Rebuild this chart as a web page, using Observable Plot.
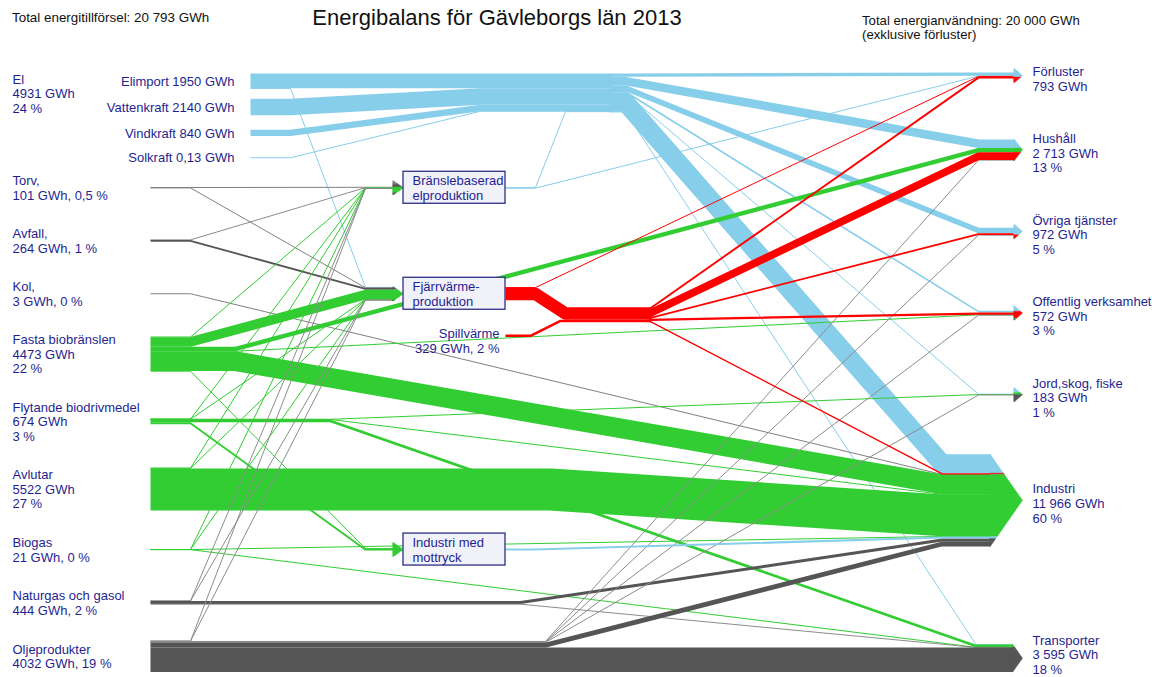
<!DOCTYPE html>
<html>
<head>
<meta charset="utf-8">
<script src="https://cdn.jsdelivr.net/npm/d3@7"></script>
<script src="https://cdn.jsdelivr.net/npm/@observablehq/plot@0.6"></script>
<style>
  body { margin: 0; background: #fff; font-family: "Liberation Sans", Arial, sans-serif; }
  #head { position: relative; width: 1152px; height: 56px; color: #111; }
  #head div { position: absolute; white-space: nowrap; }
  #chart svg { display: block; }
</style>
</head>
<body>
<div id="head">
  <div id="h-left" style="left:12px; top:10px; font-size:13.4px;"></div>
  <div id="h-title" style="left:0; width:994px; text-align:center; top:5px; font-size:22px;"></div>
  <div id="h-right" style="left:862px; top:14px; font-size:13.2px; line-height:14px;"></div>
</div>
<div id="chart"></div>
<script>
// ---------------- data ----------------
const headerLeft = "Total energitillförsel: 20 793 GWh";
const headerTitle = "Energibalans för Gävleborgs län 2013";
const headerRight = ["Total energianvändning: 20 000 GWh", "(exklusive förluster)"];

const elSources = ["Elimport", "Vattenkraft", "Vindkraft", "Solkraft"];
const elValues = [1950, 2140, 840, 0.13];
const elLabels = ["Elimport 1950 GWh", "Vattenkraft 2140 GWh", "Vindkraft 840 GWh", "Solkraft 0,13 GWh"];
const elGroupLabel = "El\n4931 GWh\n24 %";

const fuelSources = ["Torv", "Avfall", "Kol", "Fasta biobränslen", "Flytande biodrivmedel", "Avlutar", "Biogas", "Naturgas och gasol", "Oljeprodukter"];
const fuelValues = [101, 264, 3, 4473, 674, 5522, 21, 444, 4032];
const fuelLabels = ["Torv,\n101 GWh, 0,5 %", "Avfall,\n264 GWh, 1 %", "Kol,\n3 GWh, 0 %", "Fasta biobränslen\n4473 GWh\n22 %", "Flytande biodrivmedel\n674 GWh\n3 %", "Avlutar\n5522 GWh\n27 %", "Biogas\n21 GWh, 0 %", "Naturgas och gasol\n444 GWh, 2 %", "Oljeprodukter\n4032 GWh, 19 %"];

const conversions = ["Bränslebaserad elproduktion", "Fjärrvärmeproduktion", "Industri med mottryck"];
const conversionLabels = ["Bränslebaserad\nelproduktion", "Fjärrvärme-\nproduktion", "Industri med\nmottryck"];

const wasteHeat = "Spillvärme";
const wasteHeatLabel = "Spillvärme\n329 GWh, 2 %";

const hubs = ["Elnät", "Fjärrvärmenät"];

const targets = ["Förluster", "Hushåll", "Övriga tjänster", "Offentlig verksamhet", "Jord,skog, fiske", "Industri", "Transporter"];
const targetValues = [793, 2713, 972, 572, 183, 11966, 3595];
const targetLabels = ["Förluster\n793 GWh", "Hushåll\n2 713 GWh\n13 %", "Övriga tjänster\n972 GWh\n5 %", "Offentlig verksamhet\n572 GWh\n3 %", "Jord,skog, fiske\n183 GWh\n1 %", "Industri\n11 966 GWh\n60 %", "Transporter\n3 595 GWh\n18 %"];

const flows = [
  ["Elimport", "Fjärrvärmeproduktion", 25],
  ["Elimport", "Elnät", 1925],
  ["Vattenkraft", "Elnät", 2140],
  ["Vindkraft", "Elnät", 840],
  ["Solkraft", "Elnät", 0.13],
  ["Bränslebaserad elproduktion", "Elnät", 110],
  ["Bränslebaserad elproduktion", "Förluster", 50],
  ["Elnät", "Förluster", 433],
  ["Elnät", "Hushåll", 1110],
  ["Elnät", "Övriga tjänster", 722],
  ["Elnät", "Offentlig verksamhet", 210],
  ["Elnät", "Jord,skog, fiske", 65],
  ["Elnät", "Industri", 2446],
  ["Elnät", "Transporter", 30],
  ["Torv", "Bränslebaserad elproduktion", 40],
  ["Torv", "Fjärrvärmeproduktion", 61],
  ["Avfall", "Bränslebaserad elproduktion", 30],
  ["Avfall", "Fjärrvärmeproduktion", 234],
  ["Kol", "Industri", 3],
  ["Fasta biobränslen", "Bränslebaserad elproduktion", 40],
  ["Fasta biobränslen", "Hushåll", 560],
  ["Fasta biobränslen", "Fjärrvärmeproduktion", 1250],
  ["Fasta biobränslen", "Offentlig verksamhet", 40],
  ["Fasta biobränslen", "Industri", 2560],
  ["Fasta biobränslen", "Industri med mottryck", 23],
  ["Flytande biodrivmedel", "Bränslebaserad elproduktion", 5],
  ["Flytande biodrivmedel", "Fjärrvärmeproduktion", 10],
  ["Flytande biodrivmedel", "Jord,skog, fiske", 25],
  ["Flytande biodrivmedel", "Industri", 30],
  ["Flytande biodrivmedel", "Industri med mottryck", 246],
  ["Flytande biodrivmedel", "Transporter", 358],
  ["Avlutar", "Bränslebaserad elproduktion", 20],
  ["Avlutar", "Fjärrvärmeproduktion", 40],
  ["Avlutar", "Industri", 5462],
  ["Biogas", "Bränslebaserad elproduktion", 3],
  ["Biogas", "Fjärrvärmeproduktion", 5],
  ["Biogas", "Industri", 8],
  ["Biogas", "Transporter", 5],
  ["Naturgas och gasol", "Bränslebaserad elproduktion", 10],
  ["Naturgas och gasol", "Fjärrvärmeproduktion", 14],
  ["Naturgas och gasol", "Industri", 400],
  ["Naturgas och gasol", "Transporter", 20],
  ["Oljeprodukter", "Bränslebaserad elproduktion", 12],
  ["Oljeprodukter", "Fjärrvärmeproduktion", 30],
  ["Oljeprodukter", "Hushåll", 43],
  ["Oljeprodukter", "Övriga tjänster", 20],
  ["Oljeprodukter", "Offentlig verksamhet", 32],
  ["Oljeprodukter", "Jord,skog, fiske", 93],
  ["Oljeprodukter", "Industri", 620],
  ["Oljeprodukter", "Transporter", 3182],
  ["Fjärrvärmeproduktion", "Förluster", 60],
  ["Fjärrvärmeproduktion", "Fjärrvärmenät", 1609],
  ["Spillvärme", "Fjärrvärmenät", 329],
  ["Fjärrvärmenät", "Förluster", 250],
  ["Fjärrvärmenät", "Hushåll", 1000],
  ["Fjärrvärmenät", "Övriga tjänster", 230],
  ["Fjärrvärmenät", "Offentlig verksamhet", 290],
  ["Fjärrvärmenät", "Industri", 168],
  ["Industri med mottryck", "Industri", 269]
];

// ---------------- styles ----------------
const SKY = "#87ceeb", GREEN = "#32cd32", RED = "#ff0000", DARK = "#555555", GREY = "#808080", THIN_GREY = "#8c8c8c";
const colorOf = {
  "Elimport": SKY, "Vattenkraft": SKY, "Vindkraft": SKY, "Solkraft": SKY,
  "Elnät": SKY, "Bränslebaserad elproduktion": SKY, "Industri med mottryck": SKY,
  "Torv": GREY, "Avfall": DARK, "Kol": GREY,
  "Fasta biobränslen": GREEN, "Flytande biodrivmedel": GREEN, "Avlutar": GREEN, "Biogas": GREEN,
  "Naturgas och gasol": DARK, "Oljeprodukter": DARK,
  "Fjärrvärmeproduktion": RED, "Spillvärme": RED, "Fjärrvärmenät": RED
};
const TEXT = "#1f1f8f";

// ---------------- layout (pixel units, mapped to GWh via y scale) ----------------
const W = 1152, H = 621;
const K = 130;                 // GWh per pixel of band thickness
const L = {
  top: 17, rTop: 16, LH: 14.6,
  labelX: 12, elLabelX: 234, elX: 250, srcX: 150, srcRun: 40,
  farRun: {"Fasta biobränslen": 85, "Flytande biodrivmedel": 180, "Avlutar": 400, "Naturgas och gasol": 370, "Oljeprodukter": 395},
  gapEl: 10.3, gapGroup: 8.1, gapFuel: 23.8, gapRight: 37.8,
  boxX0: 403, boxX1: 505, boxH: 32, convRun: 30, convIn: 28, convDepth: 10,
  convAlign: ["Torv", "Kol", "Biogas"],
  spillDrop: 42, spillRun: 25,
  elHubX: 610, elHubIn: 130, elHubOut: 15,
  heatHubX: 650, heatHubIn: 90,
  tipX: 1022, minHead: 7, minDepth: 8, convergeRun: 32, targetLabelX: 1032, targetLabelDy: 3,
  minDiag: 30, minStroke: 1, seam: 1
};

const T = v => v / K;
const nLines = s => s.split("\n").length;
const nodes = new Map();
const node = (id, o) => { const n = Object.assign({id, ins: [], outs: [], inRun: 0, outRun: 0}, o); nodes.set(id, n); return n; };

let prevC, prevS;
elSources.forEach((id, i) => {
  const t = T(elValues[i]), s = Math.max(t, L.LH);
  const c = i === 0 ? L.top + t / 2 : prevC + (prevS + s) / 2 + L.gapEl;
  node(id, {y: c, thick: t, x1: L.elX, outRun: L.srcRun, label: elLabels[i]});
  prevC = c; prevS = s;
});
fuelSources.forEach((id, i) => {
  const t = T(fuelValues[i]), s = Math.max(t, nLines(fuelLabels[i]) * L.LH);
  const c = prevC + (prevS + s) / 2 + (i === 0 ? L.gapGroup : L.gapFuel);
  node(id, {y: c, thick: t, x1: L.srcX, outRun: L.srcRun, label: fuelLabels[i]});
  prevC = c; prevS = s;
});
const lastLeft = nodes.get(fuelSources[fuelSources.length - 1]);
const leftBottom = lastLeft.y + lastLeft.thick / 2;

targets.forEach((id, i) => {
  const t = T(targetValues[i]), s = Math.max(t, nLines(targetLabels[i]) * L.LH);
  let c = i === 0 ? L.rTop + t / 2 : prevC + (prevS + s) / 2 + L.gapRight;
  if (i === targets.length - 1) c = leftBottom - t / 2;
  const depth = Math.max(L.minDepth, t / 2 * 0.7);
  node(id, {y: c, thick: t, tip: L.tipX, depth, x0: L.tipX - depth, inRun: L.convergeRun + depth / 2, label: targetLabels[i], final: true});
  prevC = c; prevS = s;
});

conversions.forEach((id, i) => {
  const ref = nodes.get(L.convAlign[i]);
  node(id, {y: ref.y, tip: L.boxX0, depth: L.convDepth, x0: L.boxX0 - L.convDepth, inRun: L.convIn,
            x1: L.boxX1, outRun: L.convRun, label: conversionLabels[i], box: true});
});
const fj = nodes.get(conversions[1]);
const spill = node(wasteHeat, {y: fj.y + L.spillDrop, x1: L.boxX1, outRun: L.spillRun, label: wasteHeatLabel});
const elHub = node(hubs[0], {x0: L.elHubX, x1: L.elHubX, inRun: L.elHubIn, outRun: L.elHubOut, hub: true});
const heatHub = node(hubs[1], {x0: L.heatHubX, x1: L.heatHubX, inRun: L.heatHubIn, outRun: 0, hub: true});

const links = flows.map(([a, b, v], i) => {
  const l = {id: i, s: nodes.get(a), t: nodes.get(b), v, w: T(v)};
  l.run = l.t.final && L.farRun[a] != null ? L.farRun[a] : l.s.outRun;
  l.s.outs.push(l); l.t.ins.push(l);
  return l;
});
for (const n of nodes.values()) {
  n.inSum = d3.sum(n.ins, l => l.w);
  n.outSum = d3.sum(n.outs, l => l.w);
}
const firstEl = nodes.get(elSources[0]);
elHub.y = firstEl.y - firstEl.thick / 2 + elHub.inSum / 2;
heatHub.y = (fj.y + spill.y) / 2;

for (const l of links) {
  const a = l.s.x1 + l.run, b = l.t.x0 - l.t.inRun;
  l.slope = (l.t.y - l.s.y) / Math.max(b - a, L.minDiag);
}
for (const n of nodes.values()) {
  n.outs.sort((p, q) => p.slope - q.slope);
  let y = n.y - n.outSum / 2;
  for (const l of n.outs) { l.y0 = y + l.w / 2; y += l.w; }
  n.ins.sort((p, q) => q.slope - p.slope);
  y = n.y - n.inSum / 2;
  for (const l of n.ins) { l.ta = y; l.tb = y + l.w; l.y1 = y + l.w / 2; y += l.w; }
}

const drawOrder = [...elSources, hubs[0], conversions[0], ...fuelSources, conversions[1], wasteHeat, hubs[1], conversions[2]];
const rank = new Map(drawOrder.map((id, i) => [id, i]));
const linkColor = l => (colorOf[l.s.id] === DARK && l.w < 1.2) ? THIN_GREY : colorOf[l.s.id];
const linkPts = [];
[...links].sort((p, q) => rank.get(p.s.id) - rank.get(q.s.id) || p.id - q.id).forEach(l => {
  const x0 = l.s.x1 - (l.s.hub ? L.seam : 0), x1 = l.s.x1 + l.run;
  const x3 = l.t.x0 + (l.t.hub ? L.seam : 0);
  let x2 = l.t.x0 - l.t.inRun;
  if (x2 < x1 + L.minDiag) x2 = Math.min(x1 + L.minDiag, l.t.x0);
  const color = linkColor(l), w = Math.max(l.w, L.minStroke);
  for (const [x, y] of [[x0, l.y0], [x1, l.y0], [x2, l.y1], [x3, l.y1]]) linkPts.push({id: l.id, x, y, color, w});
});

const headPts = [];
for (const n of nodes.values()) {
  if (n.tip == null || !(n.inSum > 0)) continue;
  const h = n.inSum / 2, Hh = Math.max(h, L.minHead), c = n.y, xb = n.tip - n.depth;
  const xat = y => xb + n.depth * (1 - Math.abs(y - c) / Hh);
  for (const l of n.ins) {
    const a = c + (l.ta - c) * Hh / h, b = c + (l.tb - c) * Hh / h;
    const pts = [[xb - 0.8, a], [xat(a), a]];
    if (a < c && b > c) pts.push([n.tip, c]);
    pts.push([xat(b), b], [xb - 0.8, b]);
    for (const [x, y] of pts) headPts.push({id: n.id + "|" + l.id, x, y, color: colorOf[l.s.id]});
  }
}

const boxes = conversions.map(id => { const n = nodes.get(id); return {x1: L.boxX0, x2: L.boxX1, y1: n.y - L.boxH / 2, y2: n.y + L.boxH / 2}; });
const fuelText = fuelSources.map(id => ({x: L.labelX, y: nodes.get(id).y, text: nodes.get(id).label}));
const elSubText = elSources.map(id => ({x: L.elLabelX, y: nodes.get(id).y, text: nodes.get(id).label}));
const elGroupText = [{x: L.labelX, y: firstEl.y - firstEl.thick / 2, text: elGroupLabel}];
const convText = conversions.map(id => ({x: L.boxX0 + 9, y: nodes.get(id).y, text: nodes.get(id).label}));
const spillText = [{x: L.boxX1 - 6, y: spill.y - 8, text: spill.label}];
const targetText = targets.map(id => {
  const n = nodes.get(id), half = nLines(n.label) * L.LH / 2;
  return {x: L.targetLabelX, y: Math.min(n.y + L.targetLabelDy, H - half - 1), text: n.label};
});

const Y = d => d.y * K;
const txt = {x: "x", y: Y, text: "text", fill: TEXT, fontSize: 13, lineHeight: 1.12};

const chart = Plot.plot({
  width: W, height: H, margin: 0,
  x: {domain: [0, W], range: [0, W], axis: null},
  y: {domain: [0, H * K], range: [0, H], axis: null},
  color: {type: "identity"},
  style: {fontFamily: "'Liberation Sans', Arial, sans-serif", fontSize: "13px", background: "#fff", overflow: "visible"},
  marks: [
    Plot.line(linkPts, {x: "x", y: Y, z: "id", stroke: "color", strokeWidth: "w", strokeLinejoin: "round", strokeLinecap: "butt", curve: "linear"}),
    Plot.line(headPts, {x: "x", y: Y, z: "id", fill: "color", stroke: "color", strokeWidth: 0.4, strokeLinecap: "butt", strokeLinejoin: "miter", curve: "linear-closed"}),
    Plot.rect(boxes, {x1: "x1", x2: "x2", y1: d => d.y1 * K, y2: d => d.y2 * K, fill: "#f1f1fa", stroke: "#2e2e85", strokeWidth: 1.3}),
    Plot.text(fuelText, {...txt, textAnchor: "start", lineAnchor: "middle"}),
    Plot.text(elGroupText, {...txt, textAnchor: "start", lineAnchor: "top"}),
    Plot.text(elSubText, {...txt, textAnchor: "end", lineAnchor: "middle"}),
    Plot.text(convText, {...txt, textAnchor: "start", lineAnchor: "middle"}),
    Plot.text(spillText, {...txt, textAnchor: "end", lineAnchor: "top"}),
    Plot.text(targetText, {...txt, textAnchor: "start", lineAnchor: "middle"})
  ]
});

document.getElementById("h-left").textContent = headerLeft;
document.getElementById("h-title").textContent = headerTitle;
document.getElementById("h-right").innerHTML = headerRight.join("<br>");
document.getElementById("chart").appendChild(chart);
</script>
</body>
</html>
